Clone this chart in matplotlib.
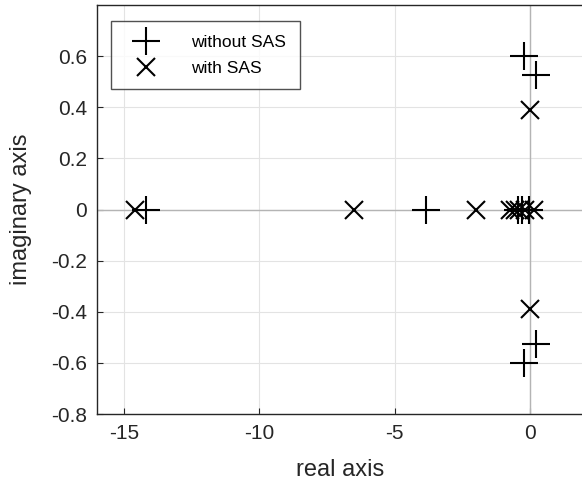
import matplotlib
matplotlib.use("Agg")
import matplotlib.pyplot as plt

# poles without SAS (real, imag)
re_without = [-14.2, -3.84, -0.45, -0.3, -0.05, -0.22, 0.22, 0.22, -0.22]
im_without = [0.0, 0.0, 0.0, 0.0, 0.0, 0.6, 0.525, -0.525, -0.6]

# poles with SAS
re_with = [-14.6, -6.5, -2.0, -0.75, -0.55, -0.4, -0.2, 0.15, 0.0, 0.0]
im_with = [0.0, 0.0, 0.0, 0.0, 0.0, 0.0, 0.0, 0.0, 0.388, -0.388]

xticks = [-15, -10, -5, 0]
yticks = [-0.8, -0.6, -0.4, -0.2, 0, 0.2, 0.4, 0.6]
ytick_labels = ["-0.8", "-0.6", "-0.4", "-0.2", "0", "0.2", "0.4", "0.6"]

plt.rcParams["font.family"] = ["Liberation Sans", "DejaVu Sans"]
plt.rcParams["axes.unicode_minus"] = False

fig = plt.figure(figsize=(5.82, 4.92), dpi=100)
ax = fig.add_axes([0.1667, 0.1585, 0.8368, 0.8313])

ax.axhline(0, color="#b4b4b4", lw=1.0, zorder=1)
ax.axvline(0, color="#b4b4b4", lw=1.0, zorder=1)

ax.plot(re_without, im_without, "+", color="black", ms=20, mew=1.5,
        ls="none", label="without SAS", zorder=3)
ax.plot(re_with, im_with, "x", color="black", ms=13, mew=1.5,
        ls="none", label="with SAS", zorder=3)

ax.set_xlim(-16, 2)
ax.set_ylim(-0.8, 0.8)
ax.set_xticks(xticks)
ax.set_yticks(yticks)
ax.set_yticklabels(ytick_labels)
ax.grid(True, color="#e3e3e3", lw=0.8, zorder=0)
ax.set_axisbelow(True)
ax.tick_params(direction="in", length=4, labelsize=15, colors="#262626",
               labelcolor="#262626", pad=7)
for s in ax.spines.values():
    s.set_color("#262626")
    s.set_linewidth(1.0)

ax.set_xlabel("real axis", fontsize=17, color="#262626", labelpad=12)
ax.set_ylabel("imaginary axis", fontsize=17, color="#262626", labelpad=14)

leg = ax.legend(loc="upper left", fontsize=12.5, frameon=True, fancybox=False,
                edgecolor="#262626", borderpad=0.8, labelspacing=0.6,
                handlelength=2.4, handletextpad=1.4,
                bbox_to_anchor=(0.029, 0.961), borderaxespad=0)
leg.get_frame().set_linewidth(1.0)

fig.savefig("out.png", dpi=100)
